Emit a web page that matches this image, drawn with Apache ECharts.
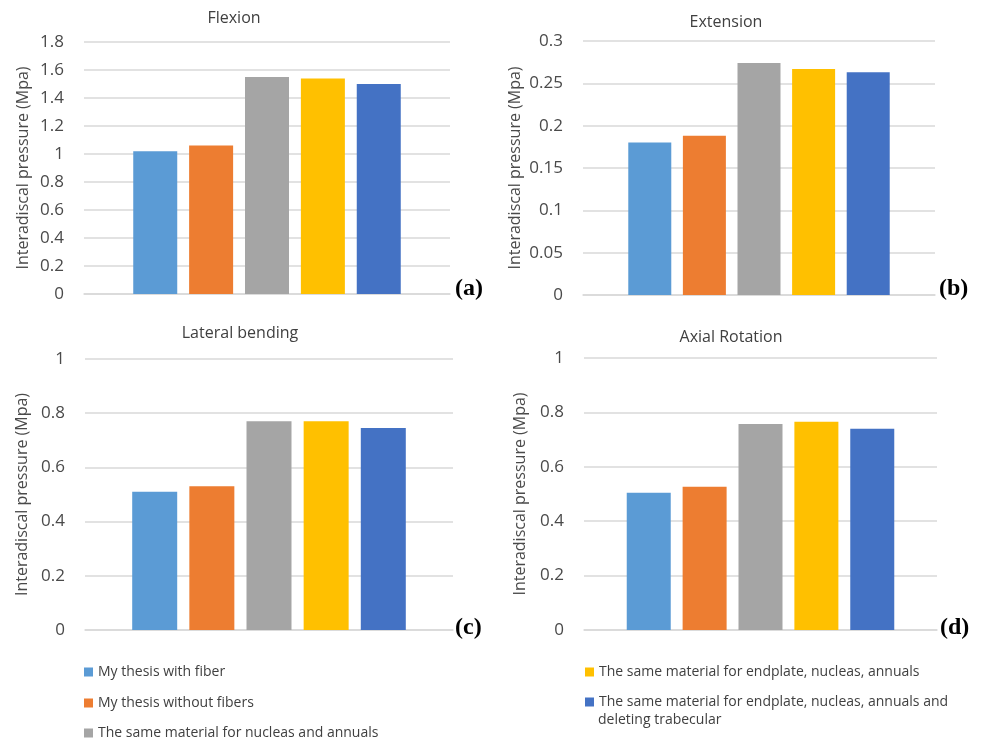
<!DOCTYPE html>
<html>
<head>
<meta charset="utf-8">
<title>Interadiscal pressure</title>
<script src="https://cdn.jsdelivr.net/npm/echarts@6/dist/echarts.min.js"></script>
<style>
  html, body { margin: 0; padding: 0; background: #ffffff; }
  #chart { width: 982px; height: 741px; }
</style>
</head>
<body>
<div id="chart"></div>
<script>
// Model variants (legend entries)
const seriesNames = [
  'My thesis with fiber',
  'My thesis without fibers',
  'The same material for nucleas and annuals',
  'The same material for endplate, nucleas, annuals',
  'The same material for endplate, nucleas, annuals and deleting trabecular'
];

// Loading cases (one panel each)
const panelTitles = ['Flexion', 'Extension', 'Lateral bending', 'Axial Rotation'];
const panelTags = ['(a)', '(b)', '(c)', '(d)'];

// Interadiscal pressure (MPa) per model variant
const flexion        = [1.02, 1.06, 1.55, 1.54, 1.50];
const extension      = [0.18, 0.188, 0.274, 0.267, 0.263];
const lateralBending = [0.51, 0.53, 0.77, 0.77, 0.745];
const axialRotation  = [0.505, 0.527, 0.757, 0.766, 0.74];

// Value-axis ranges
const axisMax  = [1.8, 0.3, 1, 1];
const axisStep = [0.2, 0.05, 0.2, 0.2];

const panelValues = [flexion, extension, lateralBending, axialRotation];

const palette = ['#5B9BD5', '#ED7D31', '#A5A5A5', '#FFC000', '#4472C4'];
const textColor = '#4a4a4a';
const gridColor = '#D9D9D9';
const baseFont = "'Open Sans', 'Noto Sans', sans-serif";

// Plot boxes for the four panels
const boxes = [
  { left: 84,  right: 532, top: 42,  bottom: 447, barWidth: 44, nameGap: 53, title: [229, 5],  tag: [455, 277] },
  { left: 583, right: 47,  top: 41,  bottom: 446, barWidth: 43, nameGap: 60, title: [721, 9],  tag: [939, 277] },
  { left: 85,  right: 529, top: 359, bottom: 111, barWidth: 45, nameGap: 55, title: [235, 320], tag: [455, 616] },
  { left: 584, right: 45,  top: 358, bottom: 111, barWidth: 44, nameGap: 56, title: [726, 324], tag: [940, 616] }
];

const grid = [], xAxis = [], yAxis = [], series = [], title = [], graphic = [];

boxes.forEach((b, p) => {
  grid.push({ left: b.left, right: b.right, top: b.top, bottom: b.bottom, containLabel: false });
  xAxis.push({
    type: 'category', gridIndex: p, data: [''],
    axisTick: { show: false }, axisLabel: { show: false },
    axisLine: { show: true, lineStyle: { color: gridColor, width: 1.5 } }
  });
  yAxis.push({
    type: 'value', gridIndex: p, min: 0, max: axisMax[p], interval: axisStep[p],
    name: 'Interadiscal pressure (Mpa)', nameLocation: 'middle', nameGap: b.nameGap,
    nameTextStyle: { color: textColor, fontSize: 16, fontFamily: baseFont },
    axisLine: { show: false }, axisTick: { show: false },
    axisLabel: { color: textColor, fontSize: 17, fontFamily: baseFont, margin: 20 },
    splitLine: { lineStyle: { color: gridColor, width: 1.5 } }
  });
  seriesNames.forEach((name, i) => {
    series.push({
      type: 'bar', name: name, xAxisIndex: p, yAxisIndex: p,
      data: [panelValues[p][i]],
      barWidth: b.barWidth, barGap: '27%',
      itemStyle: { color: palette[i] },
      emphasis: { disabled: true }
    });
  });
  title.push({
    text: panelTitles[p], left: b.title[0], top: b.title[1], textAlign: 'center',
    textStyle: { color: '#404040', fontSize: 16, fontWeight: 'normal', fontFamily: baseFont }
  });
  graphic.push({
    type: 'text', left: b.tag[0], top: b.tag[1],
    style: { text: panelTags[p], fill: '#000000', font: "bold 24px 'Liberation Serif', 'Times New Roman', serif" }
  });
});

// Legend: two columns, one legend block per entry
const legendText = { color: '#404040', fontSize: 14, fontFamily: baseFont, lineHeight: 14 };
const legendSlots = [[84, 665], [84, 696], [84, 726], [585, 665], [585, 695]];
const legend = seriesNames.map((name, i) => ({
  orient: 'vertical', left: legendSlots[i][0], top: legendSlots[i][1], padding: 0,
  icon: 'rect', itemWidth: 9, itemHeight: 9,
  data: [name], textStyle: legendText, selectedMode: false,
  formatter: n => n.replace(' and deleting trabecular', ' and')
}));

// Continuation line of the last legend entry
graphic.push({
  type: 'text', left: 598, top: 713,
  style: { text: 'deleting trabecular', fill: '#404040', font: "14px " + baseFont }
});

const option = {
  animation: false,
  backgroundColor: '#ffffff',
  title: title,
  grid: grid,
  xAxis: xAxis,
  yAxis: yAxis,
  series: series,
  graphic: graphic,
  legend: legend
};

echarts.init(document.getElementById('chart'), null, { renderer: 'canvas' }).setOption(option);
</script>
</body>
</html>
